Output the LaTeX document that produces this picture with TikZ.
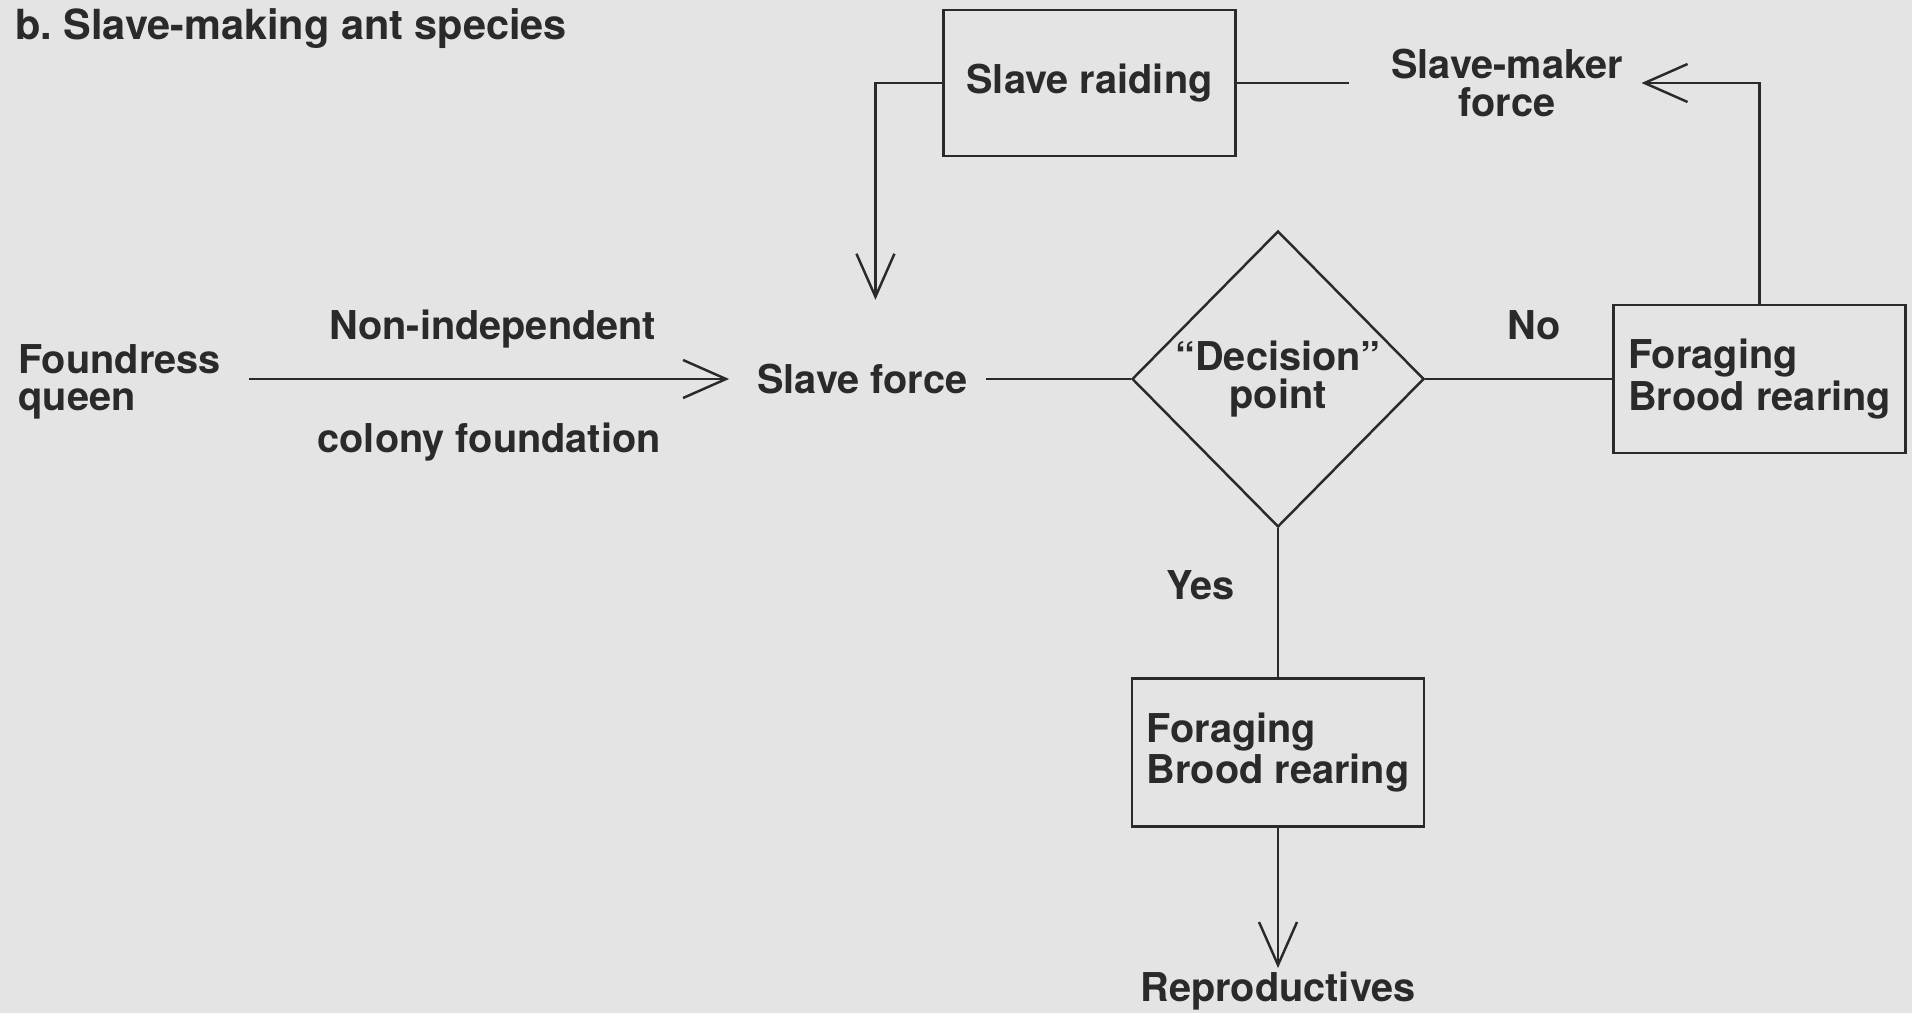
\documentclass[tikz,border=0pt]{standalone}
\usepackage{fontspec}
\setmainfont{TeX Gyre Heros}
\usetikzlibrary{shapes.geometric, arrows.meta, positioning}
\definecolor{paper}{HTML}{E4E4E4}
\definecolor{ink}{HTML}{2A2A2A}
\tikzset{
  txt/.style={font=\fontsize{11.3}{10.6}\selectfont\bfseries, text=ink, align=center, inner sep=5pt},
  box/.style={txt, rectangle, draw=ink, line width=0.8pt, inner sep=3pt, minimum width=2.92cm, minimum height=1.48cm},
  decision/.style={txt, diamond, aspect=1, draw=ink, line width=0.7pt, inner sep=0pt, minimum width=2.92cm, minimum height=2.96cm},
  lab/.style={txt},
  link/.style={line width=0.7pt, draw=ink},
  arr/.style={link, ->, >={Straight Barb[length=4.3mm, width=3.8mm]}},
}
\begin{document}
\begin{tikzpicture}
  \fill[paper] (0,0) rectangle (19.12,-10.13);
  \useasboundingbox (0,0) rectangle (19.12,-10.13);
  \node[txt, font=\fontsize{11.8}{13}\selectfont\bfseries, anchor=north west, inner sep=3pt] (title) at (0.04,0.03) {b.\ Slave-making ant species};
  \node[decision] (dec) at (12.78,-3.79) {“Decision”\\point};
  \node[box, align=left, right=1.87cm of dec] (rbox) {Foraging\\Brood rearing};
  \node[box, align=left, below=1.49cm of dec] (bbox) {Foraging\\Brood rearing};
  \node[txt, inner sep=1pt, below=1.4cm of bbox] (repro) {Reproductives};
  \node[txt, left=1.45cm of dec] (sforce) {Slave force};
  \node[txt, align=left, anchor=west] (queen) at (0,-3.82) {Foundress\\queen};
  \node[box, minimum height=1.46cm] (raid) at (10.895,-0.83) {Slave raiding};
  \node[txt, right=1.36cm of raid] (smforce) {Slave-maker\\force};
  \draw[arr, shorten <=1mm, shorten >=1mm] (queen.east |- sforce.west) -- (sforce.west)
    node[lab, pos=0.507, above=1.2mm] (nonind) {Non-independent}
    node[lab, pos=0.50, below=2.5mm] (colfound) {colony foundation};
  \draw[link] (sforce) -- (dec);
  \draw[link] (dec) -- (rbox) node[lab, pos=0.58, above=2mm] (no) {No};
  \draw[link] (dec) -- (bbox) node[lab, pos=0.38, left=2.5mm] (yes) {Yes};
  \draw[arr] (bbox) -- (repro);
  \draw[arr] (rbox.north) |- (smforce.east);
  \draw[link, shorten <=2.4mm] (smforce.west) -- (raid.east);
  \draw[arr, shorten >=4.6mm] (raid.west) -| ([xshift=1.3mm]sforce.north);
\end{tikzpicture}
\end{document}
